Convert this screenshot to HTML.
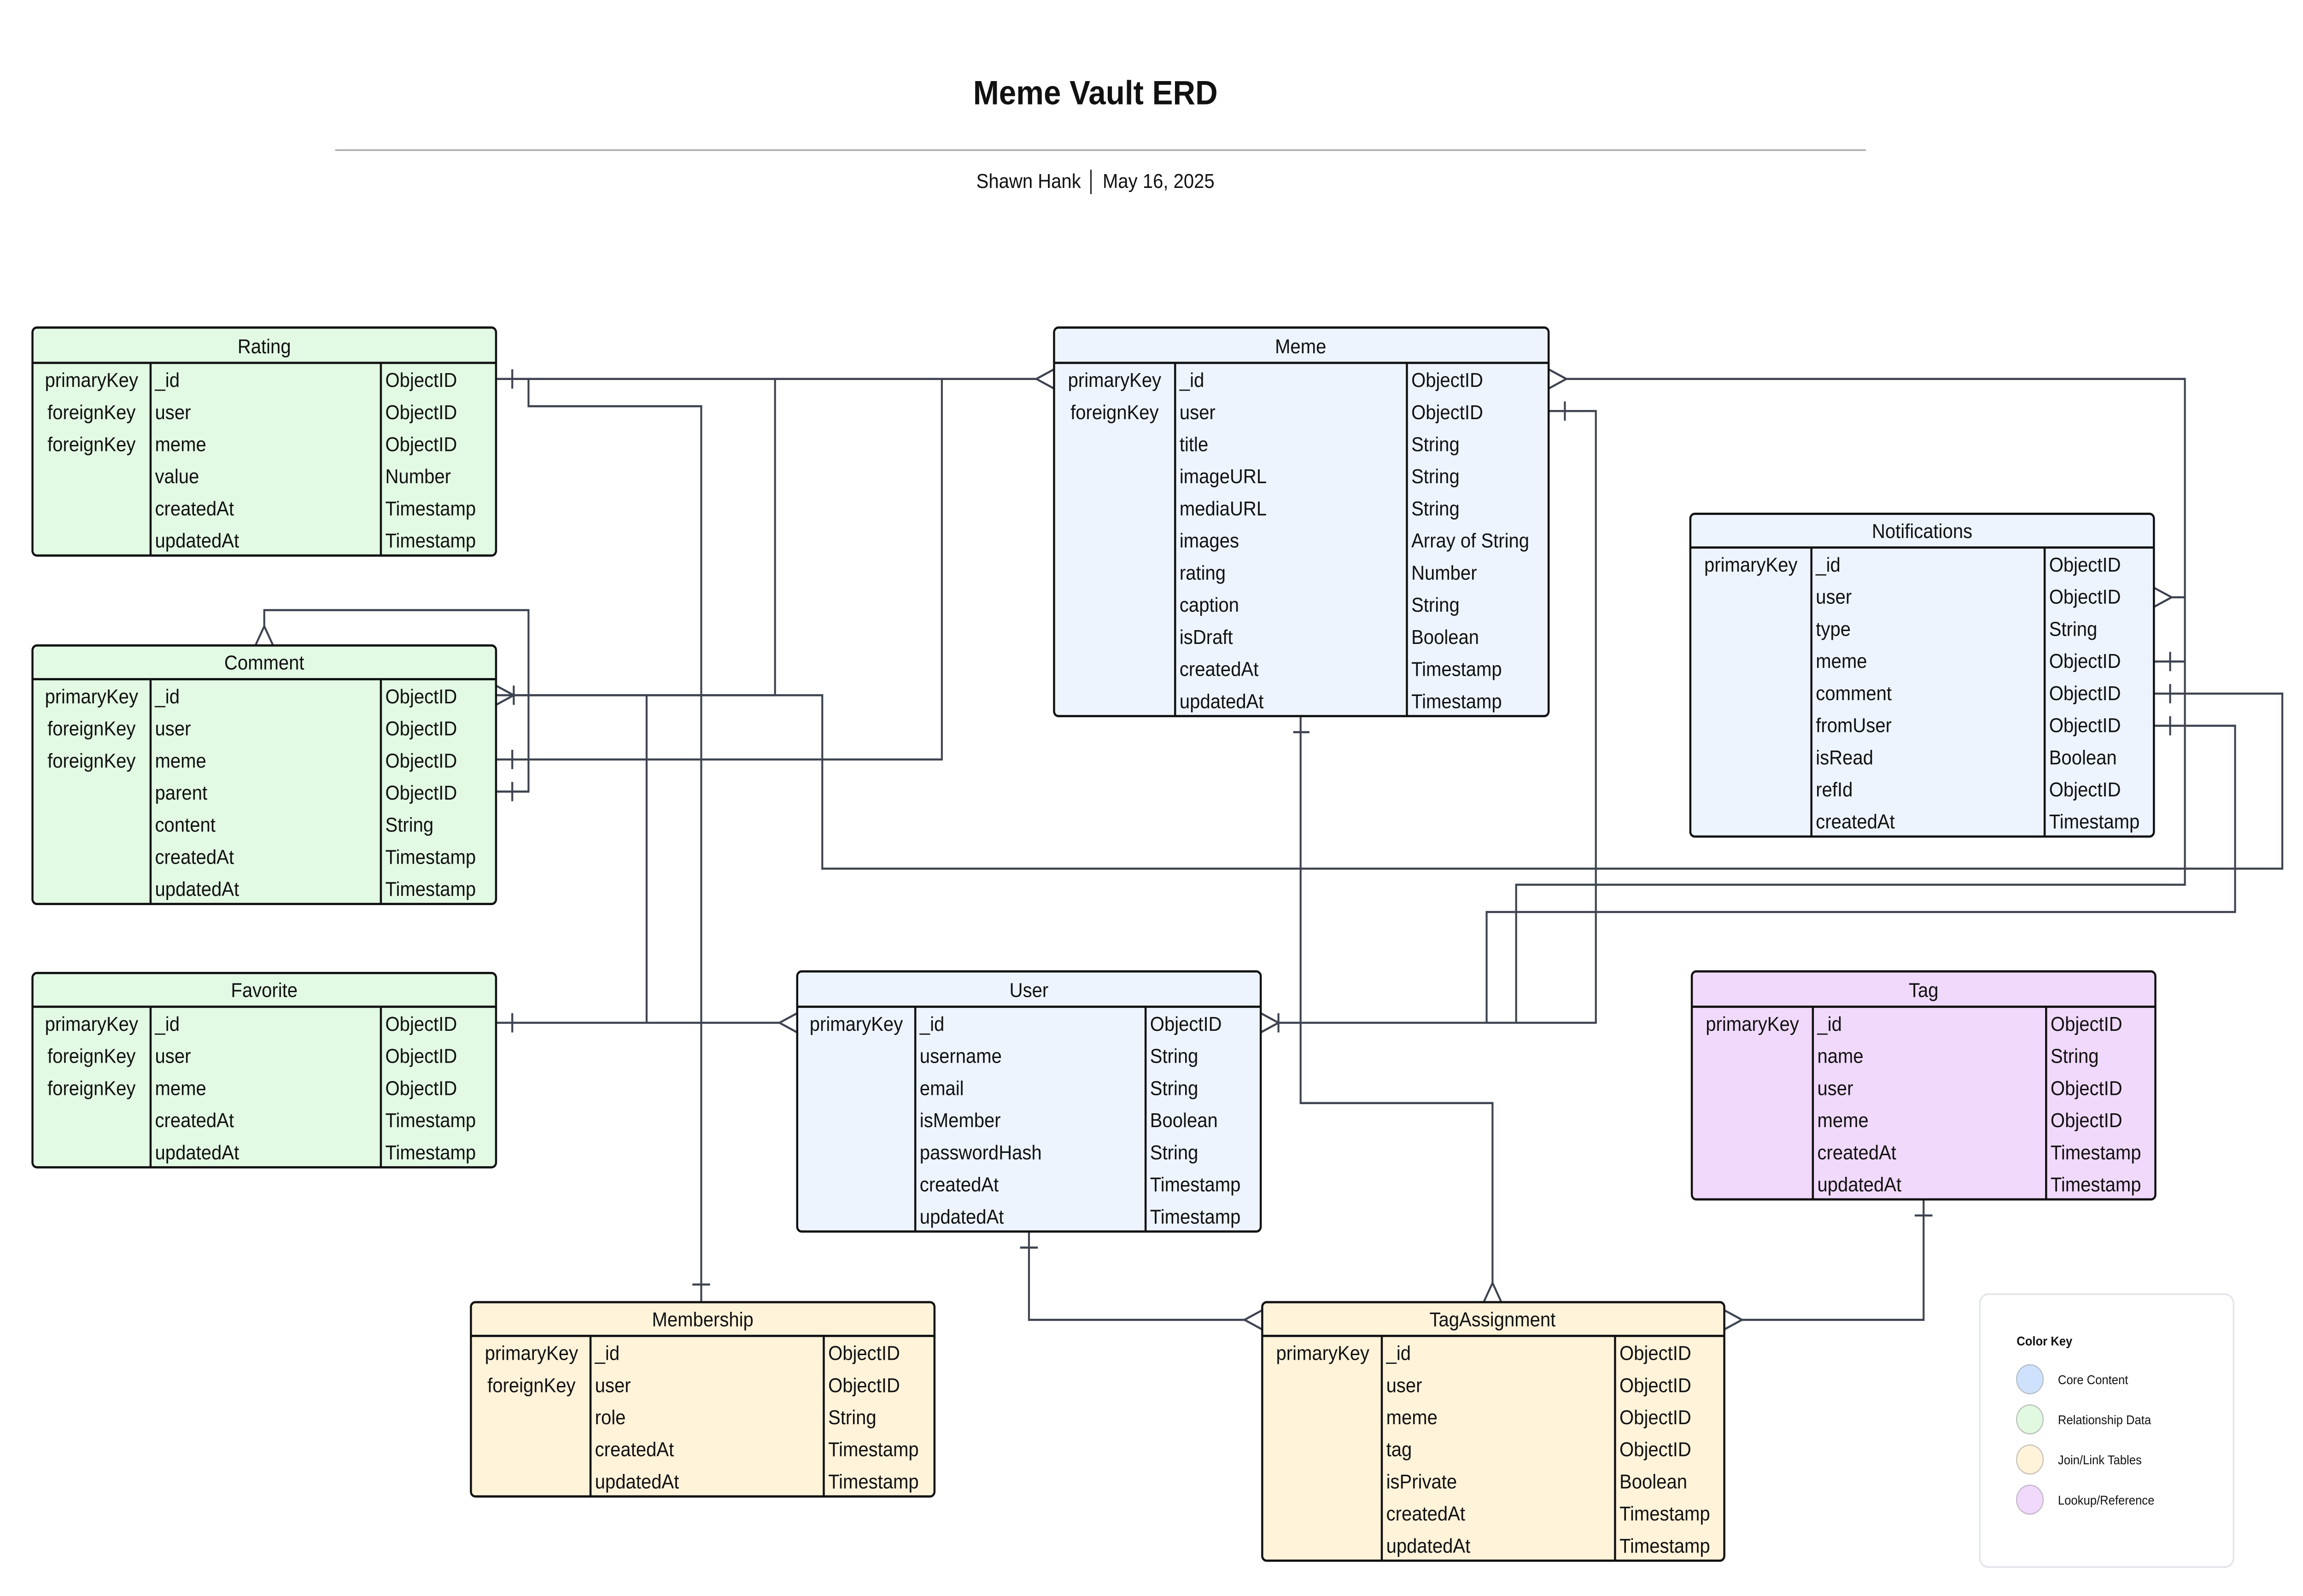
<!DOCTYPE html>
<html><head><meta charset="utf-8"><style>
html,body{margin:0;padding:0;background:#fff;width:100%;height:100%;overflow:hidden;}
svg{display:block;position:absolute;left:0;top:0;width:100vw;height:100vh;}
text{font-family:"Liberation Sans",sans-serif;fill:#111;}
.t{font-size:12.5px;}
.h{font-size:12.5px;text-anchor:middle;}
.k{font-size:12.5px;text-anchor:middle;}
.b{fill:none;stroke:#111;stroke-width:1.4;}
.c{fill:none;stroke:#3d4350;stroke-width:1.3;}
</style></head><body>
<svg viewBox="0 0 1560 994" preserveAspectRatio="none" xmlns="http://www.w3.org/2000/svg">
<rect width="1560" height="994" fill="#fff"/>
<text x="742" y="65" style="font-size:21px;font-weight:bold;text-anchor:middle">Meme Vault ERD</text>
<line x1="227" y1="93.5" x2="1264" y2="93.5" stroke="#aaa" stroke-width="1"/>
<text x="742" y="117" style="font-size:12.5px;text-anchor:middle">Shawn Hank  │  May 16, 2025</text>

<g class="c">
<path d="M336 236 H702"/>
<path d="M358 236 V253 H475 V811"/>
<path d="M336 433 H525 V236"/>
<path d="M336 473 H638 V236"/>
<path d="M336 493 H358 V380 H179 V390"/>
<path d="M348 433 H557 V541 H1546 V432 H1459"/>
<path d="M438 433 V637"/>
<path d="M336 637 H528"/>
<path d="M866 637 H1081 V256 H1049"/>
<path d="M1007 637 V568 H1514 V452 H1459"/>
<path d="M1027 637 V551 H1480 V236 H1060"/>
<path d="M1471 372 H1480"/>
<path d="M1459 412 H1480"/>
<path d="M881 446 V687 H1011 V799"/>
<path d="M697 767 V822 H843"/>
<path d="M1303 747 V822 H1180"/>
<path d="M347 230 V242 M347 631 V643 M347 467 V479 M347 487 V499 M1060 250 V262 M876 456 H887 M691 777 H703 M469 800 H481 M1297 757 H1309 M1470 406 V418 M1470 426 V438 M1470 446 V458"/>
<path d="M714 230 L702 236 L714 242"/>
<path d="M336 427 L348 433 L336 439 M348 427 V439"/>
<path d="M173 402 L179 390 L185 402"/>
<path d="M540 631 L528 637 L540 643"/>
<path d="M854 631 L866 637 L854 643 M866 631 V643"/>
<path d="M1049 230 L1061 236 L1049 242"/>
<path d="M1459 366 L1471 372 L1459 378"/>
<path d="M1005 811 L1011 799 L1017 811"/>
<path d="M855 816 L843 822 L855 828"/>
<path d="M1168 816 L1180 822 L1168 828"/>
</g>

<g>
<rect x="22" y="204" width="314" height="142" rx="3" fill="#e2f9e3"/>
<path class="b" d="M22 226 H336 M102 226 V346 M258 226 V346"/><rect class="b" x="22" y="204" width="314" height="142" rx="3"/>
<text class="h" x="179" y="220">Rating</text>
<text class="k" x="62" y="241">primaryKey</text><text class="k" x="62" y="261">foreignKey</text><text class="k" x="62" y="281">foreignKey</text>
<text class="t" x="105" y="241">_id</text><text class="t" x="105" y="261">user</text><text class="t" x="105" y="281">meme</text><text class="t" x="105" y="301">value</text><text class="t" x="105" y="321">createdAt</text><text class="t" x="105" y="341">updatedAt</text>
<text class="t" x="261" y="241">ObjectID</text><text class="t" x="261" y="261">ObjectID</text><text class="t" x="261" y="281">ObjectID</text><text class="t" x="261" y="301">Number</text><text class="t" x="261" y="321">Timestamp</text><text class="t" x="261" y="341">Timestamp</text>
</g>

<g>
<rect x="22" y="402" width="314" height="161" rx="3" fill="#e2f9e3"/>
<path class="b" d="M22 423 H336 M102 423 V563 M258 423 V563"/><rect class="b" x="22" y="402" width="314" height="161" rx="3"/>
<text class="h" x="179" y="417">Comment</text>
<text class="k" x="62" y="438">primaryKey</text><text class="k" x="62" y="458">foreignKey</text><text class="k" x="62" y="478">foreignKey</text>
<text class="t" x="105" y="438">_id</text><text class="t" x="105" y="458">user</text><text class="t" x="105" y="478">meme</text><text class="t" x="105" y="498">parent</text><text class="t" x="105" y="518">content</text><text class="t" x="105" y="538">createdAt</text><text class="t" x="105" y="558">updatedAt</text>
<text class="t" x="261" y="438">ObjectID</text><text class="t" x="261" y="458">ObjectID</text><text class="t" x="261" y="478">ObjectID</text><text class="t" x="261" y="498">ObjectID</text><text class="t" x="261" y="518">String</text><text class="t" x="261" y="538">Timestamp</text><text class="t" x="261" y="558">Timestamp</text>
</g>

<g>
<rect x="22" y="606" width="314" height="121" rx="3" fill="#e2f9e3"/>
<path class="b" d="M22 627 H336 M102 627 V727 M258 627 V727"/><rect class="b" x="22" y="606" width="314" height="121" rx="3"/>
<text class="h" x="179" y="621">Favorite</text>
<text class="k" x="62" y="642">primaryKey</text><text class="k" x="62" y="662">foreignKey</text><text class="k" x="62" y="682">foreignKey</text>
<text class="t" x="105" y="642">_id</text><text class="t" x="105" y="662">user</text><text class="t" x="105" y="682">meme</text><text class="t" x="105" y="702">createdAt</text><text class="t" x="105" y="722">updatedAt</text>
<text class="t" x="261" y="642">ObjectID</text><text class="t" x="261" y="662">ObjectID</text><text class="t" x="261" y="682">ObjectID</text><text class="t" x="261" y="702">Timestamp</text><text class="t" x="261" y="722">Timestamp</text>
</g>

<g>
<rect x="714" y="204" width="335" height="242" rx="3" fill="#edf4fe"/>
<path class="b" d="M714 226 H1049 M796 226 V446 M953 226 V446"/><rect class="b" x="714" y="204" width="335" height="242" rx="3"/>
<text class="h" x="881" y="220">Meme</text>
<text class="k" x="755" y="241">primaryKey</text><text class="k" x="755" y="261">foreignKey</text>
<text class="t" x="799" y="241">_id</text><text class="t" x="799" y="261">user</text><text class="t" x="799" y="281">title</text><text class="t" x="799" y="301">imageURL</text><text class="t" x="799" y="321">mediaURL</text><text class="t" x="799" y="341">images</text><text class="t" x="799" y="361">rating</text><text class="t" x="799" y="381">caption</text><text class="t" x="799" y="401">isDraft</text><text class="t" x="799" y="421">createdAt</text><text class="t" x="799" y="441">updatedAt</text>
<text class="t" x="956" y="241">ObjectID</text><text class="t" x="956" y="261">ObjectID</text><text class="t" x="956" y="281">String</text><text class="t" x="956" y="301">String</text><text class="t" x="956" y="321">String</text><text class="t" x="956" y="341">Array of String</text><text class="t" x="956" y="361">Number</text><text class="t" x="956" y="381">String</text><text class="t" x="956" y="401">Boolean</text><text class="t" x="956" y="421">Timestamp</text><text class="t" x="956" y="441">Timestamp</text>
</g>

<g>
<rect x="1145" y="320" width="314" height="201" rx="3" fill="#edf4fe"/>
<path class="b" d="M1145 341 H1459 M1227 341 V521 M1385 341 V521"/><rect class="b" x="1145" y="320" width="314" height="201" rx="3"/>
<text class="h" x="1302" y="335">Notifications</text>
<text class="k" x="1186" y="356">primaryKey</text>
<text class="t" x="1230" y="356">_id</text><text class="t" x="1230" y="376">user</text><text class="t" x="1230" y="396">type</text><text class="t" x="1230" y="416">meme</text><text class="t" x="1230" y="436">comment</text><text class="t" x="1230" y="456">fromUser</text><text class="t" x="1230" y="476">isRead</text><text class="t" x="1230" y="496">refId</text><text class="t" x="1230" y="516">createdAt</text>
<text class="t" x="1388" y="356">ObjectID</text><text class="t" x="1388" y="376">ObjectID</text><text class="t" x="1388" y="396">String</text><text class="t" x="1388" y="416">ObjectID</text><text class="t" x="1388" y="436">ObjectID</text><text class="t" x="1388" y="456">ObjectID</text><text class="t" x="1388" y="476">Boolean</text><text class="t" x="1388" y="496">ObjectID</text><text class="t" x="1388" y="516">Timestamp</text>
</g>

<g>
<rect x="540" y="605" width="314" height="162" rx="3" fill="#edf4fe"/>
<path class="b" d="M540 627 H854 M620 627 V767 M776 627 V767"/><rect class="b" x="540" y="605" width="314" height="162" rx="3"/>
<text class="h" x="697" y="621">User</text>
<text class="k" x="580" y="642">primaryKey</text>
<text class="t" x="623" y="642">_id</text><text class="t" x="623" y="662">username</text><text class="t" x="623" y="682">email</text><text class="t" x="623" y="702">isMember</text><text class="t" x="623" y="722">passwordHash</text><text class="t" x="623" y="742">createdAt</text><text class="t" x="623" y="762">updatedAt</text>
<text class="t" x="779" y="642">ObjectID</text><text class="t" x="779" y="662">String</text><text class="t" x="779" y="682">String</text><text class="t" x="779" y="702">Boolean</text><text class="t" x="779" y="722">String</text><text class="t" x="779" y="742">Timestamp</text><text class="t" x="779" y="762">Timestamp</text>
</g>

<g>
<rect x="1146" y="605" width="314" height="142" rx="3" fill="#f1d9fb"/>
<path class="b" d="M1146 627 H1460 M1228 627 V747 M1386 627 V747"/><rect class="b" x="1146" y="605" width="314" height="142" rx="3"/>
<text class="h" x="1303" y="621">Tag</text>
<text class="k" x="1187" y="642">primaryKey</text>
<text class="t" x="1231" y="642">_id</text><text class="t" x="1231" y="662">name</text><text class="t" x="1231" y="682">user</text><text class="t" x="1231" y="702">meme</text><text class="t" x="1231" y="722">createdAt</text><text class="t" x="1231" y="742">updatedAt</text>
<text class="t" x="1389" y="642">ObjectID</text><text class="t" x="1389" y="662">String</text><text class="t" x="1389" y="682">ObjectID</text><text class="t" x="1389" y="702">ObjectID</text><text class="t" x="1389" y="722">Timestamp</text><text class="t" x="1389" y="742">Timestamp</text>
</g>

<g>
<rect x="319" y="811" width="314" height="121" rx="3" fill="#fff3da"/>
<path class="b" d="M319 832 H633 M400 832 V932 M558 832 V932"/><rect class="b" x="319" y="811" width="314" height="121" rx="3"/>
<text class="h" x="476" y="826">Membership</text>
<text class="k" x="360" y="847">primaryKey</text><text class="k" x="360" y="867">foreignKey</text>
<text class="t" x="403" y="847">_id</text><text class="t" x="403" y="867">user</text><text class="t" x="403" y="887">role</text><text class="t" x="403" y="907">createdAt</text><text class="t" x="403" y="927">updatedAt</text>
<text class="t" x="561" y="847">ObjectID</text><text class="t" x="561" y="867">ObjectID</text><text class="t" x="561" y="887">String</text><text class="t" x="561" y="907">Timestamp</text><text class="t" x="561" y="927">Timestamp</text>
</g>

<g>
<rect x="855" y="811" width="313" height="161" rx="3" fill="#fff3da"/>
<path class="b" d="M855 832 H1168 M936 832 V972 M1094 832 V972"/><rect class="b" x="855" y="811" width="313" height="161" rx="3"/>
<text class="h" x="1011" y="826">TagAssignment</text>
<text class="k" x="896" y="847">primaryKey</text>
<text class="t" x="939" y="847">_id</text><text class="t" x="939" y="867">user</text><text class="t" x="939" y="887">meme</text><text class="t" x="939" y="907">tag</text><text class="t" x="939" y="927">isPrivate</text><text class="t" x="939" y="947">createdAt</text><text class="t" x="939" y="967">updatedAt</text>
<text class="t" x="1097" y="847">ObjectID</text><text class="t" x="1097" y="867">ObjectID</text><text class="t" x="1097" y="887">ObjectID</text><text class="t" x="1097" y="907">ObjectID</text><text class="t" x="1097" y="927">Boolean</text><text class="t" x="1097" y="947">Timestamp</text><text class="t" x="1097" y="967">Timestamp</text>
</g>

<g>
<rect x="1341" y="806" width="172" height="170" rx="6" fill="#fff" stroke="#e1e4ea" stroke-width="1"/>
<text x="1366" y="838" style="font-size:8px;font-weight:bold">Color Key</text>
<circle cx="1375" cy="859" r="9" fill="#cfe2fd" stroke="#b5bcc8" stroke-width="0.7"/>
<circle cx="1375" cy="884" r="9" fill="#e1f8e1" stroke="#b8c0b8" stroke-width="0.7"/>
<circle cx="1375" cy="909" r="9" fill="#fff3da" stroke="#c6c0b4" stroke-width="0.7"/>
<circle cx="1375" cy="934" r="9" fill="#f1d9fb" stroke="#c2b6c8" stroke-width="0.7"/>
<text x="1394" y="862" style="font-size:8px">Core Content</text>
<text x="1394" y="887" style="font-size:8px">Relationship Data</text>
<text x="1394" y="912" style="font-size:8px">Join/Link Tables</text>
<text x="1394" y="937" style="font-size:8px">Lookup/Reference</text>
</g>
</svg>
</body></html>
